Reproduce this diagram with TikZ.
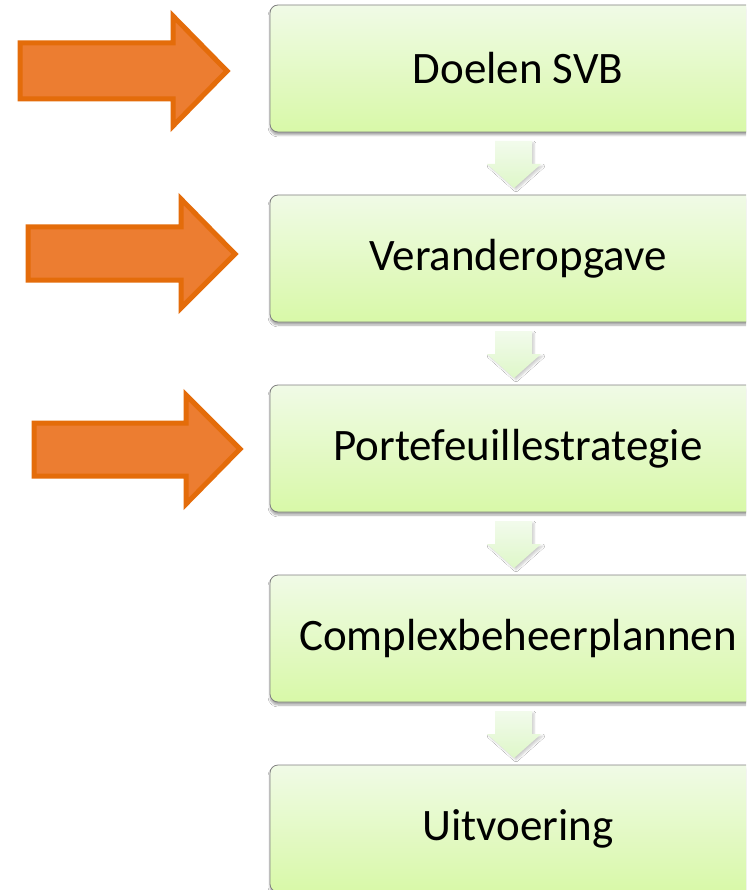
\documentclass[tikz,border=0pt]{standalone}
\usepackage{fontspec}
\setmainfont{Carlito}
\usetikzlibrary{shadows.blur}
\definecolor{boxtop}{RGB}{240,250,230}
\definecolor{boxbot}{RGB}{216,249,168}
\definecolor{boxline}{RGB}{128,128,128}
\definecolor{orfill}{RGB}{236,125,49}
\definecolor{orline}{RGB}{228,108,10}
\definecolor{dtop}{RGB}{242,251,236}
\definecolor{dbot}{RGB}{222,247,200}
\tikzset{
  x=1pt, y=-1pt,
  stepbox/.style={draw=boxline, line width=0.8pt, rounded corners=8pt,
    top color=boxtop, bottom color=boxbot, minimum width=496pt, minimum height=127pt,
    font=\fontsize{45}{50}\selectfont, text=black, inner sep=0pt,
    blur shadow={shadow xshift=0pt, shadow yshift=-3pt, shadow blur steps=6, shadow opacity=35}},
  orarrow/.style={fill=orfill, draw=orline, line width=5pt, line join=miter},
  downarrow/.style={top color=dtop, bottom color=dbot, draw=none,
    blur shadow={shadow xshift=2pt, shadow yshift=-2pt, shadow blur steps=5, shadow opacity=20}}
}
\begin{document}
\begin{tikzpicture}
\useasboundingbox (0,0) rectangle (746,890);
\clip (0,0) rectangle (746,890);
\fill[white] (0,0) rectangle (746,890);

\node[stepbox] (b1) at (518,68.5) {Doelen SVB};
\node[stepbox] (b2) at (518,258.5) {Veranderopgave};
\node[stepbox] (b3) at (518,448.5) {Portefeuillestrategie};
\node[stepbox] (b4) at (518,638.5) {Complexbeheerplannen};
\node[stepbox] (b5) at (518,828.5) {Uitvoering};

% down arrows between boxes
\foreach \y in {0,190,380,570}{
  \path[downarrow] (495,141+\y) -- (532,141+\y) -- (532,164+\y) -- (541,164+\y)
     -- (514,188+\y) -- (487,164+\y) -- (495,164+\y) -- cycle;
}

% orange arrows
\draw[orarrow] (20,43) -- (173,43) -- (173,16) -- (227,71) -- (173,126) -- (173,99) -- (20,99) -- cycle;
\draw[orarrow] (28,227) -- (181,227) -- (181,199) -- (235,254) -- (181,308) -- (181,280) -- (28,280) -- cycle;
\draw[orarrow] (34,423) -- (186,423) -- (186,395) -- (240,449) -- (186,504) -- (186,476) -- (34,476) -- cycle;
\end{tikzpicture}
\end{document}
